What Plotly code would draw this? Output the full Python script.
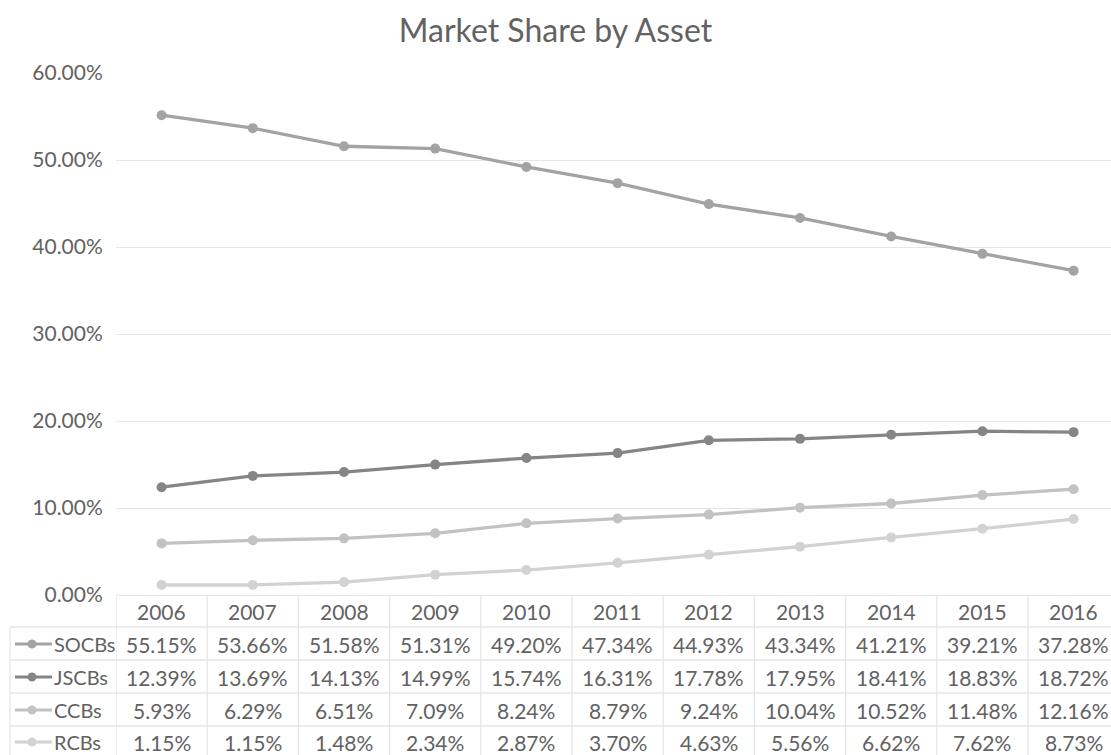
import plotly.graph_objects as go

years = [2006, 2007, 2008, 2009, 2010, 2011, 2012, 2013, 2014, 2015, 2016]
socbs = [55.15, 53.66, 51.58, 51.31, 49.20, 47.34, 44.93, 43.34, 41.21, 39.21, 37.28]
jscbs = [12.39, 13.69, 14.13, 14.99, 15.74, 16.31, 17.78, 17.95, 18.41, 18.83, 18.72]
ccbs = [5.93, 6.29, 6.51, 7.09, 8.24, 8.79, 9.24, 10.04, 10.52, 11.48, 12.16]
rcbs = [1.15, 1.15, 1.48, 2.34, 2.87, 3.70, 4.63, 5.56, 6.62, 7.62, 8.73]
series_names = ["SOCBs", "JSCBs", "CCBs", "RCBs"]
series_values = [socbs, jscbs, ccbs, rcbs]
series_colors = ["#a3a3a3", "#858585", "#c2c2c2", "#d2d2d2"]
y_ticks = [0, 0.1, 0.2, 0.3, 0.4, 0.5, 0.6]

W, H = 1111, 755
L, R, T, B = 116, 0, 73, 160
PW, PH = W - L - R, H - T - B
FONT = "Lato"
TXT = "#626262"
GRID = "#e6e6e6"
FS = 21

def py(p):
    return (H - B - p) / PH

def px(p):
    return (p - L) / PW

fig = go.Figure()
for name, vals, col in zip(series_names, series_values, series_colors):
    fig.add_trace(go.Scatter(
        x=years, y=[v / 100 for v in vals], name=name, mode="lines+markers",
        line=dict(color=col, width=3.3), marker=dict(color=col, size=10),
        showlegend=False))

shapes = []
annotations = []
row_tops = [595, 627, 660, 693, 726]
row_centers = [611, 644, 677, 710, 742]
for yy in row_tops[1:]:
    shapes.append(dict(type="line", xref="paper", yref="paper", x0=px(10), x1=1,
                       y0=py(yy), y1=py(yy), line=dict(color=GRID, width=1.3)))
shapes.append(dict(type="line", xref="paper", yref="paper", x0=px(10), x1=px(10),
                   y0=py(627), y1=py(755), line=dict(color=GRID, width=1.3)))
for i in range(len(years) + 1):
    xv = years[0] - 0.5 + i
    shapes.append(dict(type="line", xref="x", yref="paper", x0=xv, x1=xv,
                       y0=py(595), y1=py(755), line=dict(color=GRID, width=1.3)))
for yv in years:
    annotations.append(dict(x=yv, y=py(row_centers[0]), xref="x", yref="paper",
                            xanchor="center", yanchor="middle",
                            text=str(yv), showarrow=False,
                            font=dict(family=FONT, size=FS, color=TXT)))
for r, (name, vals, col) in enumerate(zip(series_names, series_values, series_colors)):
    yc = py(row_centers[r + 1])
    for yv, v in zip(years, vals):
        annotations.append(dict(x=yv, y=yc, xref="x", yref="paper",
                                xanchor="center", yanchor="middle",
                                text=f"{v:.2f}%", showarrow=False,
                                font=dict(family=FONT, size=FS, color=TXT)))
    annotations.append(dict(x=px(52), y=yc, xref="paper", yref="paper",
                            xanchor="left", yanchor="middle",
                            text=name, showarrow=False,
                            font=dict(family=FONT, size=20, color=TXT)))
    shapes.append(dict(type="line", xref="paper", yref="paper", x0=px(15), x1=px(52),
                       y0=yc, y1=yc, line=dict(color=col, width=3)))
    rr = 4.5
    shapes.append(dict(type="circle", xref="paper", yref="paper",
                       x0=px(32 - rr), x1=px(32 + rr),
                       y0=yc - rr / PH, y1=yc + rr / PH,
                       fillcolor=col, line=dict(color=col, width=0)))

fig.update_layout(
    width=W, height=H,
    margin=dict(l=L, r=R, t=T, b=B),
    paper_bgcolor="white", plot_bgcolor="white",
    title=dict(text="Market Share by Asset", x=0.5, xanchor="center",
               y=1 - 31 / H, yanchor="middle",
               font=dict(family=FONT, size=32, color=TXT)),
    xaxis=dict(range=[years[0] - 0.5, years[0] - 0.5 + PW / 91.2],
               showticklabels=False, showgrid=False, zeroline=False,
               showline=True, linecolor=GRID, linewidth=1.3, fixedrange=True),
    yaxis=dict(range=[0, 0.6], tickvals=y_ticks, tickformat=".2%",
               showgrid=True, gridcolor=GRID, gridwidth=1.3, zeroline=False,
               tickfont=dict(family=FONT, size=FS, color=TXT),
               ticks="outside", ticklen=8, tickcolor="rgba(0,0,0,0)"),
    shapes=shapes, annotations=annotations,
)

fig.write_html("out.html", config={"displayModeBar": False},
               post_script="document.body.style.margin='0';document.body.style.padding='0';document.body.style.overflow='hidden';")
